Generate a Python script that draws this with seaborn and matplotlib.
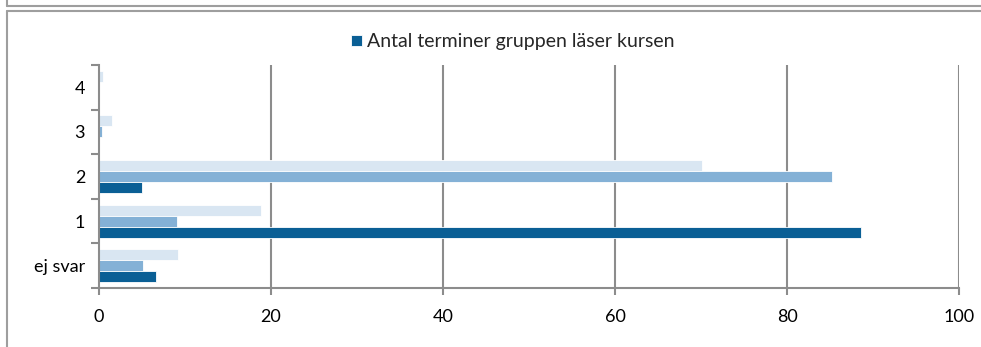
import matplotlib
matplotlib.use("Agg")
import matplotlib.pyplot as plt
from matplotlib.lines import Line2D
from matplotlib.ticker import FixedLocator, NullFormatter
import seaborn as sns
import pandas as pd

# Category labels (top to bottom) and the three series per category
categories = ["4", "3", "2", "1", "ej svar"]
series_names = ["Serie 1", "Serie 2", "Antal terminer gruppen läser kursen"]
serie_1 = [0.5, 1.5, 70.1, 18.8, 9.2]
serie_2 = [0.0, 0.4, 85.2, 9.1, 5.1]
antal_terminer = [0.0, 0.0, 5.0, 88.6, 6.6]
colors = ["#D9E6F2", "#84B1D6", "#0A5F95"]
x_ticks = [0, 20, 40, 60, 80, 100]

rows = []
for name, vals in zip(series_names, [serie_1, serie_2, antal_terminer]):
    for cat, v in zip(categories, vals):
        rows.append({"kategori": cat, "serie": name, "varde": v})
df = pd.DataFrame(rows)

sns.set_theme(style="white")
plt.rcParams["font.family"] = ["Lato", "DejaVu Sans"]

W, H = 981, 347
fig = plt.figure(figsize=(W / 100, H / 100), dpi=100)
ax = fig.add_axes([99 / W, 1 - 288 / H, (959 - 99) / W, (288 - 65) / H])

sns.barplot(data=df, x="varde", y="kategori", hue="serie", order=categories,
            hue_order=series_names, palette=colors, saturation=1, orient="h",
            width=0.74, edgecolor="white", linewidth=0.6, ax=ax, legend=True)

ax.set_xlim(0, 100)
ax.set_ylim(len(categories) - 0.5, -0.5)
ax.set_xlabel("")
ax.set_ylabel("")

grid_col = "#8C8C8C"
ax.set_xticks(x_ticks)
ax.set_xticklabels([str(t) for t in x_ticks])
for t in x_ticks[1:]:
    ax.axvline(t, color=grid_col, lw=1.5, zorder=0)

# category labels at centres, tick marks at the category boundaries
ax.yaxis.set_minor_locator(FixedLocator([i - 0.5 for i in range(len(categories) + 1)]))
ax.yaxis.set_minor_formatter(NullFormatter())
ax.tick_params(axis="y", which="major", length=0, pad=10, labelsize=13, colors="black")
ax.tick_params(axis="y", which="minor", length=6, width=1.5, color=grid_col, left=True)
ax.tick_params(axis="x", which="major", length=5, width=1.5, color=grid_col, bottom=True,
               pad=10, labelsize=13, labelcolor="black")

for side in ["top", "right"]:
    ax.spines[side].set_visible(False)
for side in ["left", "bottom"]:
    ax.spines[side].set_color(grid_col)
    ax.spines[side].set_linewidth(1.5)

# legend shows only the main series
handles, labels = ax.get_legend_handles_labels()
ax.legend([handles[2]], [labels[2]], loc="center", bbox_to_anchor=(513 / W, 1 - 42 / H),
          bbox_transform=fig.transFigure, frameon=False, fontsize=14,
          handlelength=0.55, handleheight=0.55, handletextpad=0.25)

# surrounding chart frames
frame_col = "#9E9E9E"
lw = 1.5
fig.add_artist(Line2D([7 / W, 1], [1 - 5.5 / H] * 2, transform=fig.transFigure, color=frame_col, lw=lw))
fig.add_artist(Line2D([7 / W, 7 / W], [1, 1 - 5.5 / H], transform=fig.transFigure, color=frame_col, lw=lw))
fig.add_artist(Line2D([7 / W, 1], [1 - 11 / H] * 2, transform=fig.transFigure, color=frame_col, lw=lw))
fig.add_artist(Line2D([7 / W, 7 / W], [1 - 11 / H, 0], transform=fig.transFigure, color=frame_col, lw=lw))

fig.savefig("out.png", dpi=100)
